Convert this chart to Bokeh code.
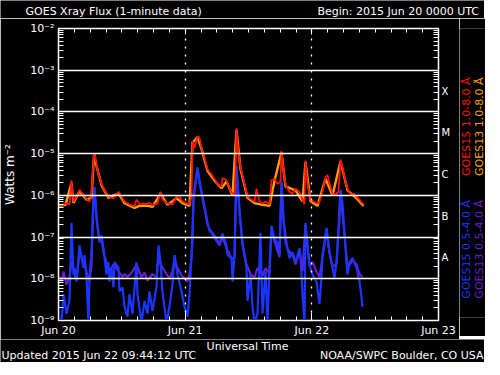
import math
from bokeh.plotting import figure
from bokeh.layouts import column, row
from bokeh.models import FixedTicker, LinearAxis, LogAxis, Grid, Label, Range1d, LogScale
from bokeh.embed import file_html
from bokeh.resources import INLINE

# ---------------- data (hours since 2015 Jun 20 00:00 UTC, flux W m^-2) ----------------
g15_long_hours = [0.00, 0.57, 1.33, 2.08, 2.46, 2.84, 3.41, 3.98, 4.55, 5.31, 5.87, 6.25, 6.54, 6.73, 6.92,
                  7.20, 7.58, 8.15, 8.72, 9.47, 10.42, 11.37, 11.94, 12.50, 13.45, 14.40, 14.78, 15.35, 16.10,
                  16.67, 17.24, 17.81, 18.76, 19.33, 19.70, 20.65, 21.60, 22.36, 22.93, 23.50, 24.25, 24.82,
                  25.20, 25.39, 25.77, 26.34, 26.72, 27.10, 27.66, 28.23, 28.99, 29.56, 30.13, 30.88, 31.07,
                  31.83, 32.40, 32.97, 33.44, 33.73, 34.01, 34.48, 35.24, 35.81, 36.57, 37.14, 37.52, 38.08,
                  38.65, 39.22, 39.98, 40.36, 40.93, 41.49, 42.06, 42.25, 42.63, 43.01, 43.77, 44.34, 44.91,
                  45.66, 46.23, 46.61, 46.80, 47.18, 47.75, 48.32, 49.07, 49.45, 50.02, 50.59, 50.97, 51.35,
                  51.92, 52.48, 53.05, 53.43, 53.81, 54.19, 54.76, 55.33, 55.90, 56.46, 57.03, 57.60, 57.79]
g15_long_flux = [6.1e-7, 5.8e-7, 6.4e-7, 6.1e-7, 2.3e-6, 7.1e-7, 9.4e-7, 1.36e-6, 1.1e-6, 8.4e-7, 7.1e-7, 9.4e-7,
                 4.7e-6, 1.0e-5, 9.6e-6, 5.5e-6, 3.2e-6, 1.9e-6, 1.36e-6, 9.4e-7, 8.4e-7, 1.22e-6, 9.4e-7,
                 7.1e-7, 6.1e-7, 5.45e-7, 7.9e-7, 6.1e-7, 6.4e-7, 6.1e-7, 6.7e-7, 5.8e-7, 6.4e-7, 1.22e-6,
                 7.9e-7, 6.4e-7, 6.1e-7, 9.4e-7, 9.4e-7, 7.1e-7, 6.4e-7, 6.1e-7, 9.4e-7, 2.0e-5, 1.38e-5,
                 2.63e-5, 2.37e-5, 1.38e-5, 8.0e-6, 4.2e-6, 3.2e-6, 2.46e-6, 1.9e-6, 1.6e-6, 2.6e-6, 2.33e-6,
                 1.44e-6, 1.1e-6, 1.1e-6, 4.05e-5, 1.38e-5, 4.7e-6, 1.9e-6, 9.4e-7, 7.9e-7, 7.1e-7, 1.44e-6,
                 7.1e-7, 6.4e-7, 7.1e-7, 6.1e-7, 2.33e-6, 2.46e-6, 1.9e-6, 2.1e-6, 1.17e-5, 4.0e-6, 1.78e-6,
                 1.22e-6, 1.1e-6, 1.44e-6, 1.22e-6, 7.9e-7, 6.1e-7, 6.85e-6, 1.9e-6, 7.9e-7, 7.1e-7, 6.4e-7,
                 7.1e-7, 1.22e-6, 2.74e-6, 3.05e-6, 1.9e-6, 1.1e-6, 1.04e-6, 1.22e-6, 7.2e-6, 4.7e-6, 2.74e-6,
                 1.44e-6, 1.04e-6, 1.1e-6, 9.4e-7, 7.9e-7, 6.4e-7, 6.1e-7]

g13_long_hours = [0.00, 1.33, 2.46, 2.84, 3.98, 5.31, 6.25, 6.73, 7.20, 8.15, 9.47, 11.37, 12.50, 14.40, 15.35,
                  16.67, 17.81, 19.33, 20.65, 22.36, 23.50, 24.82, 25.39, 26.34, 27.10, 28.23, 29.56, 30.88,
                  31.83, 32.97, 33.73, 34.48, 35.81, 37.14, 38.65, 39.98, 40.93, 42.25, 43.01, 44.91, 46.23,
                  46.80, 47.75, 49.07, 50.59, 51.92, 53.43, 54.76, 56.46, 57.79]
g13_long_flux = [5.6e-7, 5.9e-7, 2.0e-6, 6.6e-7, 1.25e-6, 7.8e-7, 8.8e-7, 9.4e-6, 5.1e-6, 1.75e-6, 8.7e-7, 1.12e-6,
                 6.5e-7, 5.0e-7, 5.6e-7, 5.7e-7, 5.3e-7, 1.1e-6, 5.9e-7, 8.6e-7, 6.5e-7, 5.6e-7, 1.85e-5, 2.45e-5,
                 1.3e-5, 3.9e-6, 2.25e-6, 1.48e-6, 2.15e-6, 1.0e-6, 3.7e-5, 4.3e-6, 8.7e-7, 6.5e-7, 5.9e-7,
                 5.6e-7, 2.25e-6, 1.07e-5, 1.65e-6, 1.32e-6, 7.2e-7, 6.3e-6, 7.2e-7, 5.6e-7, 2.5e-6, 1.0e-6,
                 6.6e-6, 1.32e-6, 8.6e-7, 5.6e-7]

g15_short_hours = [0.00, 0.19, 0.57, 0.95, 1.52, 2.08, 2.46, 2.84, 3.03, 3.41, 3.98, 4.74, 4.93, 5.31, 5.68, 5.87,
                   6.25, 6.63, 6.82, 7.20, 7.58, 7.77, 8.15, 8.53, 9.09, 9.47, 9.66, 10.04, 10.42, 10.61, 11.37,
                   11.56, 12.13, 12.50, 13.07, 13.45, 14.02, 14.78, 14.97, 15.73, 16.29, 16.86, 17.24, 17.81,
                   18.57, 18.95, 19.33, 19.70, 20.46, 21.03, 21.60, 21.98, 22.55, 23.31, 23.87, 24.44, 24.82,
                   25.20, 25.39, 25.58, 26.15, 26.34, 26.72, 27.28, 27.66, 28.04, 28.23, 28.61, 29.18, 29.94,
                   30.51, 31.07, 31.83, 32.02, 32.78, 32.97, 33.35, 33.73, 34.29, 34.86, 35.62, 35.81, 36.38,
                   36.76, 37.14, 37.71, 38.27, 38.65, 39.22, 39.60, 39.98, 40.36, 40.93, 41.49, 41.87, 42.25,
                   42.63, 43.01, 43.39, 43.77, 44.34, 44.91, 45.66, 45.85, 46.23, 46.61, 46.80, 46.99, 47.56,
                   48.13, 48.88, 49.45, 49.83, 50.02, 50.40, 50.78, 50.97, 51.35, 51.92, 52.29, 52.67, 53.24,
                   53.43, 53.81, 54.19, 54.57, 54.76, 55.14, 55.71, 56.46, 57.03, 57.41, 57.60]
g15_short_flux = [2.5e-9, 9e-10, 9e-10, 4.3e-9, 1.46e-9, 2.94e-9, 2.18e-7, 1.26e-8, 1.83e-8, 8.6e-9, 6.3e-8,
                  1.83e-8, 3.7e-8, 1.07e-8, 9e-10, 1.07e-8, 4.3e-8, 9.35e-7, 1.6e-6, 3.18e-7, 1.27e-7, 7.4e-8,
                  1.08e-7, 5.4e-8, 1.26e-8, 2.5e-8, 8.6e-9, 1.83e-8, 6.25e-9, 2.5e-8, 1.83e-8, 5.0e-9, 6.25e-9,
                  2.13e-9, 1.24e-9, 4.3e-9, 1.46e-9, 2.5e-8, 4.3e-9, 9e-10, 2.94e-9, 1.46e-9, 5.0e-9, 1.71e-9,
                  6.25e-9, 6.3e-8, 2.5e-8, 5.0e-9, 9e-10, 2.13e-9, 7.3e-9, 3.7e-8, 1.26e-8, 5.0e-9, 2.13e-9,
                  1.24e-9, 4.3e-9, 3.7e-8, 7.4e-8, 9.35e-7, 3.2e-6, 4.7e-6, 2.09e-6, 9.35e-7, 5.45e-7, 3.18e-7,
                  2.18e-7, 1.42e-7, 1.27e-7, 9.2e-8, 7.0e-8, 1.21e-7, 6.3e-8, 3.7e-8, 3.1e-8, 8.6e-9, 3.7e-8,
                  5.0e-6, 4.65e-7, 7.4e-8, 1.83e-8, 2.94e-9, 1.26e-8, 2.13e-9, 9e-10, 1.46e-9, 1.27e-7, 1.46e-9,
                  1.48e-8, 9e-10, 1.83e-8, 1.86e-7, 9.2e-8, 7.4e-8, 3.7e-8, 2.09e-6, 2.71e-7, 7.4e-8, 5.4e-8,
                  3.1e-8, 4.3e-8, 2.5e-8, 5.4e-8, 3.7e-8, 4.3e-9, 9e-10, 2.18e-7, 1.08e-7, 2.15e-8, 1.26e-8,
                  8.6e-9, 2.5e-9, 1.07e-8, 3.7e-8, 7.4e-8, 1.67e-7, 1.08e-7, 4.3e-8, 1.83e-8, 1.07e-8, 2.5e-8,
                  2.71e-7, 1.36e-6, 6.4e-7, 1.27e-7, 2.5e-8, 1.26e-8, 2.5e-8, 3.1e-8, 1.83e-8, 8.6e-9, 3.65e-9,
                  2.13e-9]

g13_short_hours = [0.00, 0.57, 0.95, 1.52, 2.08, 2.46, 3.03, 3.41, 3.98, 4.74, 5.31, 5.87, 6.25, 6.63, 6.82, 7.20,
                   7.58, 8.15, 8.53, 9.09, 9.66, 10.42, 11.37, 12.13, 12.50, 13.07, 14.02, 14.78, 15.73, 16.29,
                   16.86, 17.81, 18.57, 18.95, 19.33, 20.46, 21.03, 21.60, 21.98, 22.55, 23.31, 24.44, 24.82,
                   25.20, 25.58, 26.34, 27.28, 28.23, 29.18, 30.51, 31.07, 31.83, 32.78, 33.35, 33.73, 34.29,
                   34.86, 35.62, 36.38, 37.14, 37.71, 38.65, 39.22, 39.98, 40.36, 40.93, 41.87, 42.25, 42.63,
                   43.39, 44.34, 44.91, 45.66, 46.23, 46.80, 47.56, 48.13, 48.88, 49.45, 50.02, 50.78, 51.35,
                   51.92, 52.67, 53.43, 54.19, 54.76, 55.71, 56.46, 57.03, 57.60]
g13_short_flux = [1.26e-8, 8.6e-9, 1.5e-8, 7.3e-9, 1.1e-8, 2.5e-8, 1.5e-8, 9e-9, 4.3e-8, 2.5e-8, 1.5e-8, 8.6e-9,
                  2.2e-8, 8e-7, 1.4e-6, 2.8e-7, 1.1e-7, 9e-8, 4.3e-8, 2.5e-8, 1.5e-8, 2.2e-8, 1.5e-8, 1.1e-8,
                  1.3e-8, 1.1e-8, 1.5e-8, 2.2e-8, 1.07e-8, 1.4e-8, 9e-9, 1.3e-8, 1.1e-8, 4.3e-8, 2.2e-8, 1.3e-8,
                  1.0e-8, 1.5e-8, 3.1e-8, 1.8e-8, 1.2e-8, 8.6e-9, 1.3e-8, 3.1e-8, 8e-7, 4.2e-6, 8.5e-7, 2.0e-7,
                  1.15e-7, 6.3e-8, 1.0e-7, 5.4e-8, 3.1e-8, 3.3e-8, 4.5e-6, 4.0e-7, 6.5e-8, 2.2e-8, 1.3e-8,
                  1.1e-8, 1.8e-8, 1.2e-8, 1.8e-8, 1.3e-8, 1.6e-7, 8e-8, 3.3e-8, 1.9e-6, 2.4e-7, 5e-8, 3.8e-8,
                  2.2e-8, 4.8e-8, 1.5e-8, 2.0e-7, 2.0e-8, 2.5e-8, 1.5e-8, 1.1e-8, 3.3e-8, 1.5e-7, 4e-8, 2e-8,
                  2.2e-8, 1.25e-6, 1.1e-7, 1.8e-8, 2.8e-8, 2.2e-8, 1.3e-8, 1.1e-8]

x_tick_hours = [0, 24, 48, 72]
x_tick_labels = ["Jun 20", "Jun 21", "Jun 22", "Jun 23"]
y_tick_exponents = [-9, -8, -7, -6, -5, -4, -3, -2]
y_tick_labels = ["10⁻⁹", "10⁻⁸", "10⁻⁷", "10⁻⁶", "10⁻⁵", "10⁻⁴", "10⁻³", "10⁻²"]
class_letters = ["A", "B", "C", "M", "X"]
class_lower_exponents = [-8, -7, -6, -5, -4]
series_labels = ["GOES15 1.0-8.0 Å", "GOES13 1.0-8.0 Å", "GOES15 0.5-4.0 Å", "GOES13 0.5-4.0 Å"]

title_text = "GOES Xray Flux (1-minute data)"
begin_text = "Begin:  2015 Jun 20 0000 UTC"
xlabel_text = "Universal Time"
ylabel_text = "Watts m⁻²"
updated_text = "Updated 2015 Jun 22 09:44:12 UTC"
credit_text = "NOAA/SWPC Boulder, CO USA"

# ---------------- styling ----------------
FONT = "DejaVu Sans"
RED = "#ff1010"
ORANGE = "#ffa000"
BLUE = "#1a35ff"
PURPLE = "#6a1ed2"
WHITE = "white"
TOTAL_W = 484
TOP_H = 18
BORDER_L, BORDER_R, BORDER_T, BORDER_B = 57, 21, 10, 16
FRAME_W, FRAME_H = 380, 292
MAIN_W = BORDER_L + FRAME_W + BORDER_R
MAIN_H = BORDER_T + FRAME_H + BORDER_B
BOT_H = 359 - TOP_H - MAIN_H
LEG_W = TOTAL_W - MAIN_W


def text_panel(w, h):
    f = figure(width=w, height=h, x_range=Range1d(0, w), y_range=Range1d(h, 0),
               x_axis_type=None, y_axis_type=None, min_border=0,
               output_backend="svg", toolbar_location=None)
    f.background_fill_color = "black"
    f.border_fill_color = "black"
    f.outline_line_color = None
    f.grid.visible = False
    return f


def lab(f, text, x, y, align="left", color=WHITE, angle=0.0, size="11px"):
    f.add_layout(Label(x=x, y=y, text=text, text_color=color, text_font=FONT,
                       text_font_size=size, text_align=align, text_baseline="middle",
                       angle=angle))


# ---------------- main plot ----------------
p = figure(frame_width=FRAME_W, frame_height=FRAME_H, x_axis_type=None, y_axis_type=None,
           x_range=Range1d(0, 72), y_range=Range1d(1e-9, 1e-2),
           output_backend="svg", toolbar_location=None,
           min_border_left=BORDER_L, min_border_right=BORDER_R,
           min_border_top=BORDER_T, min_border_bottom=BORDER_B)
p.y_scale = LogScale()
p.background_fill_color = "black"
p.border_fill_color = "black"
p.outline_line_color = WHITE
p.outline_line_width = 1.5

y_ticks = [10.0 ** e for e in y_tick_exponents]
y_minor = [k * 10.0 ** e for e in y_tick_exponents[:-1] for k in range(2, 10)]
x_minor = list(range(0, 73, 3))


def style_axis(ax, major_in, minor_in):
    ax.axis_line_color = WHITE
    ax.major_tick_line_color = WHITE
    ax.minor_tick_line_color = WHITE
    ax.major_tick_in = major_in
    ax.major_tick_out = 0
    ax.minor_tick_in = minor_in
    ax.minor_tick_out = 0
    ax.major_label_text_color = WHITE
    ax.major_label_text_font = FONT
    ax.major_label_text_font_size = "11px"


xb = LinearAxis(ticker=FixedTicker(ticks=x_tick_hours, minor_ticks=x_minor))
xb.major_label_overrides = {h: t for h, t in zip(x_tick_hours, x_tick_labels)}
style_axis(xb, 8, 4)
xb.major_label_standoff = 3
p.add_layout(xb, "below")

xt = LinearAxis(ticker=FixedTicker(ticks=x_tick_hours, minor_ticks=x_minor))
style_axis(xt, 6, 4)
xt.major_label_overrides = {h: "" for h in x_tick_hours}
xt.major_label_text_font_size = "1px"
xt.major_label_standoff = 0
p.add_layout(xt, "above")

yl = LogAxis(ticker=FixedTicker(ticks=y_ticks, minor_ticks=y_minor))
yl.major_label_overrides = {v: t for v, t in zip(y_ticks, y_tick_labels)}
style_axis(yl, 8, 5)
yl.major_label_standoff = 4
yl.axis_label = ylabel_text
yl.axis_label_text_color = WHITE
yl.axis_label_text_font = FONT
yl.axis_label_text_font_size = "12px"
yl.axis_label_text_font_style = "normal"
yl.axis_label_standoff = 10
p.add_layout(yl, "left")

class_pos = [10.0 ** (e + 0.5) for e in class_lower_exponents]
yr = LogAxis(ticker=FixedTicker(ticks=class_pos, minor_ticks=y_minor))
yr.major_label_overrides = {v: t for v, t in zip(class_pos, class_letters)}
style_axis(yr, 0, 5)
yr.major_label_standoff = 3
yr.major_label_text_font_size = "10px"
p.add_layout(yr, "right")

# decade lines and day separators drawn as grids above the data
ygrid = Grid(dimension=1, ticker=FixedTicker(ticks=y_ticks[1:-1]), grid_line_color=WHITE,
             grid_line_width=1.3, level="annotation")
xgrid = Grid(dimension=0, ticker=FixedTicker(ticks=x_tick_hours[1:-1]), grid_line_color=WHITE,
             grid_line_width=1.3, grid_line_dash="2 6", level="annotation")
p.add_layout(ygrid)
p.add_layout(xgrid)

p.line(g13_short_hours, g13_short_flux, line_color=PURPLE, line_width=2.2)
p.line(g15_short_hours, g15_short_flux, line_color=BLUE, line_width=2.2)
p.line(g13_long_hours, g13_long_flux, line_color=ORANGE, line_width=2.4)
p.line(g15_long_hours, g15_long_flux, line_color=RED, line_width=1.8)

# ---------------- text panels ----------------
top = text_panel(TOTAL_W, TOP_H)
lab(top, title_text, 25, 11)
lab(top, begin_text, 482, 11, align="right")

leg = text_panel(LEG_W, MAIN_H)
lab(leg, series_labels[0], 7, 108, color=RED, angle=math.pi / 2, align="center")
lab(leg, series_labels[1], 19.5, 108, color=ORANGE, angle=math.pi / 2, align="center")
lab(leg, series_labels[2], 7, 243, color=BLUE, angle=math.pi / 2, align="center")
lab(leg, series_labels[3], 19.5, 243, color=PURPLE, angle=math.pi / 2, align="center")

bot = text_panel(TOTAL_W, BOT_H)
lab(bot, xlabel_text, 247, 7, align="center")
lab(bot, updated_text, 1, 16)
lab(bot, credit_text, 483, 16, align="right")

layout = column(top, row(p, leg), bot)
open("out.html", "w").write(file_html(layout, INLINE))
